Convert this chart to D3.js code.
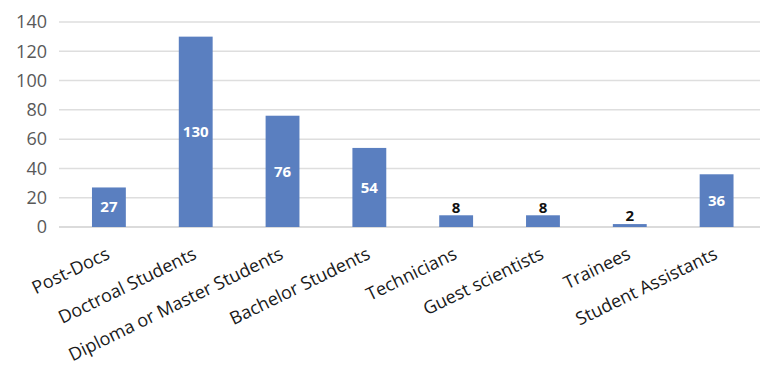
<!DOCTYPE html>
<html>
<head>
<meta charset="utf-8">
<script src="https://cdn.jsdelivr.net/npm/d3@7"></script>
<style>
  body { margin: 0; background: #fff; }
  svg text { font-family: "Open Sans", "Liberation Sans", sans-serif; }
</style>
</head>
<body>
<svg id="chart"></svg>
<script>
// categories and counts
var categories = ["Post-Docs", "Doctroal Students", "Diploma or Master Students", "Bachelor Students",
                  "Technicians", "Guest scientists", "Trainees", "Student Assistants"];
var counts = [27, 130, 76, 54, 8, 8, 2, 36];
var yTicks = [0, 20, 40, 60, 80, 100, 120, 140];

var W = 763, H = 371;
var margin = { top: 22, right: 3, bottom: 144, left: 59 },
    width = W - margin.left - margin.right,
    height = H - margin.top - margin.bottom;

var svg = d3.select("#chart")
    .attr("width", W)
    .attr("height", H)
    .append("g")
    .attr("transform", "translate(" + margin.left + "," + margin.top + ")");

// bars sit a bit right of the grid start
var x = d3.scaleBand()
    .domain(categories)
    .range([6.5, width])
    .paddingInner(0.61)
    .paddingOuter(0.305);

var y = d3.scaleLinear()
    .domain([0, 140])
    .range([height, 0]);

// gridlines
svg.append("g")
    .selectAll("line")
    .data(yTicks)
    .enter()
    .append("line")
    .attr("x1", 0)
    .attr("x2", width)
    .attr("y1", d => y(d))
    .attr("y2", d => y(d))
    .attr("stroke", d => d === 0 ? "#cfcfcf" : "#dedede")
    .attr("stroke-width", 1.5);

// y axis labels
var yAxis = svg.append("g")
    .call(d3.axisLeft(y).tickValues(yTicks).tickSize(0).tickPadding(12));
yAxis.select(".domain").remove();
yAxis.selectAll("text")
    .attr("font-size", "18px")
    .attr("fill", "#595959");

// bars
svg.selectAll("rect.bar")
    .data(counts)
    .enter()
    .append("rect")
    .attr("class", "bar")
    .attr("x", (d, i) => x(categories[i]))
    .attr("y", d => y(d))
    .attr("width", x.bandwidth())
    .attr("height", d => height - y(d))
    .attr("fill", "#5a7fc0");

// value labels
svg.selectAll("text.val")
    .data(counts)
    .enter()
    .append("text")
    .attr("class", "val")
    .attr("x", (d, i) => x(categories[i]) + x.bandwidth() / 2)
    .attr("y", d => d < 15 ? y(d) - 8 : (y(d) + height) / 2)
    .attr("dy", "0.35em")
    .attr("text-anchor", "middle")
    .attr("font-size", "15px")
    .attr("font-weight", "bold")
    .attr("fill", d => d < 15 ? "#111" : "#fff")
    .text(d => d);

// x axis labels
var xAxis = svg.append("g")
    .attr("transform", "translate(0," + height + ")")
    .call(d3.axisBottom(x).tickSize(0).tickPadding(0));
xAxis.select(".domain").remove();
xAxis.selectAll("text")
    .attr("font-size", "18px")
    .attr("fill", "#1a1a1a")
    .attr("text-anchor", "end")
    .attr("y", 0)
    .attr("dy", "0")
    .attr("transform", "translate(2,31) rotate(-26)");
</script>
</body>
</html>
